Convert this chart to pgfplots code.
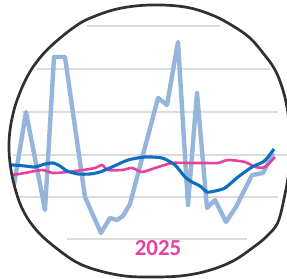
\documentclass[border=0pt]{standalone}
\usepackage{pgfplots}
\pgfplotsset{compat=1.18}
\usepackage{fontspec}
\newfontfamily\labelfont{Carlito}
\definecolor{lightblue}{HTML}{95B5DA}
\definecolor{darkblue}{HTML}{0E6FBE}
\definecolor{pinkline}{HTML}{E8409E}
\definecolor{gridgray}{HTML}{DCDCDC}
\definecolor{ringcol}{HTML}{303030}
\def\ringpath{plot[smooth cycle, tension=0.6] coordinates {(150,5) (185,7) (212,15) (233,26) (250,38) (263,53) (274,68) (281,84) (286,102) (289,122) (290,145) (289,170) (285,194) (278,222) (267,236) (255,246) (233,261) (207,271) (180,276) (150,277) (125,276) (100,271) (80,264) (64,254) (43,237) (30,222) (21,206) (15,188) (11,170) (9,150) (10,130) (14,110) (19,95) (25,81) (33,67) (45,52) (59,39) (73,28) (88,19) (117,9)}}
\begin{document}
\begin{tikzpicture}
\begin{scope}
\clip[x=1bp,y=-1bp,shift={(0,-279)}] \ringpath;
\begin{axis}[
  width=287bp, height=279bp, scale only axis,
  xmin=0, xmax=287, ymin=0, ymax=279, y dir=reverse,
  hide axis, clip=false,
]
% grid lines
\draw[gridgray, line width=1.2bp] (axis cs:87,26) -- (axis cs:220,26);
\draw[gridgray, line width=1.2bp] (axis cs:37,69) -- (axis cs:270,69);
\draw[gridgray, line width=1.2bp] (axis cs:22,112) -- (axis cs:278,112);
\draw[gridgray, line width=1.2bp] (axis cs:13,155) -- (axis cs:290,155);
\draw[gridgray, line width=1.2bp] (axis cs:18,197) -- (axis cs:278,197);
\draw[gridgray, line width=1.2bp] (axis cs:67,239) -- (axis cs:247,239);
% light blue series
\addplot[lightblue, line width=4.4bp, line join=round] coordinates {
(8,192) (14,185) (26,112) (45,210) (54,57) (65,57) (85,197) (101,233) (110,218) (117,220) (123,216) (130,204) (158,98) (167,105) (178,42) (188,205) (197,93) (207,208) (215,200) (226,222) (236,207) (252,175) (263,173) (273,153)
};
% pink series
\addplot[pinkline, line width=2.6bp, smooth, tension=0.4] coordinates {
(5,176) (12,175) (25,173) (42,170) (53,173) (67,172) (83,170) (95,168) (102,165) (108,170) (122,170) (132,168) (142,172) (155,168) (172,163) (185,163) (205,163) (218,163) (228,160) (245,162) (255,167) (265,167) (275,157)
};
% dark blue series
\addplot[darkblue, line width=3.1bp, smooth, tension=0.4] coordinates {
(5,166) (13,165) (25,166) (35,167) (45,164) (53,163) (60,166) (67,171) (78,174) (90,174) (100,172) (112,167) (128,160) (145,157) (162,158) (175,165) (185,177) (192,182) (200,186) (207,192) (215,191) (225,188) (238,177) (252,167) (263,162) (268,157) (274,149)
};
\node[text=pinkline, font=\labelfont\bfseries\fontsize{23}{26}\selectfont] at (axis cs:158,248) {2025};
\end{axis}
\end{scope}
\draw[ringcol, line width=2.7bp, x=1bp, y=-1bp, shift={(0,-279)}] \ringpath;
\pgfresetboundingbox
\path (0,0) rectangle (287bp,279bp);
\end{tikzpicture}
\end{document}
